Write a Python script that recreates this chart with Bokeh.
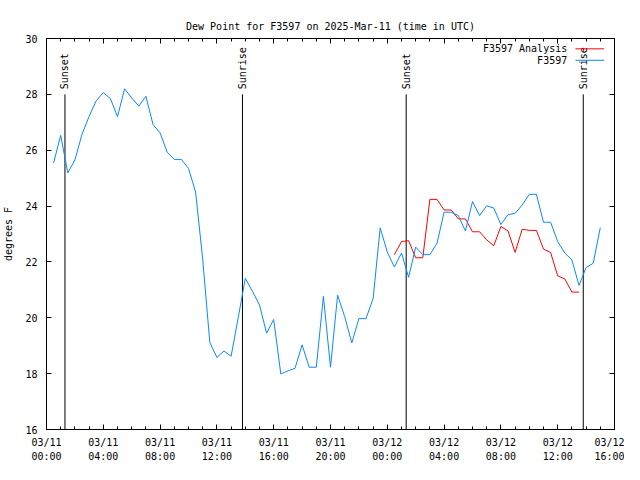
from math import pi
from bokeh.plotting import figure
from bokeh.models import Range1d, LinearAxis, FixedTicker, Label, Arrow
from bokeh.embed import file_html
from bokeh.resources import INLINE

# hours since 2025-03-11 00:00 UTC
obs_hours = [0.5, 1.0, 1.5, 2.0, 2.5, 3.0, 3.5, 4.0, 4.5, 5.0,
             5.5, 6.0, 6.5, 7.0, 7.5, 8.0, 8.5, 9.0, 9.5, 10.0,
             10.5, 11.0, 11.5, 12.0, 12.5, 13.0, 13.5, 14.0, 14.5, 15.0,
             15.5, 16.0, 16.5, 17.0, 17.5, 18.0, 18.5, 19.0, 19.5, 20.0,
             20.5, 21.0, 21.5, 22.0, 22.5, 23.0, 23.5, 24.0, 24.5, 25.0,
             25.5, 26.0, 26.5, 27.0, 27.5, 28.0, 28.5, 29.0, 29.5, 30.0,
             30.5, 31.0, 31.5, 32.0, 32.5, 33.0, 33.5, 34.0, 34.5, 35.0,
             35.5, 36.0, 36.5, 37.0, 37.5, 38.0, 38.5, 39.0]
obs_dewpoint = [25.54, 26.53, 25.19, 25.65, 26.57, 27.21, 27.77, 28.06, 27.85, 27.20,
                28.20, 27.87, 27.58, 27.93, 26.92, 26.62, 25.93, 25.67, 25.67, 25.35,
                24.50, 22.10, 19.12, 18.58, 18.81, 18.62, 20.00, 21.41, 20.95, 20.46,
                19.45, 19.94, 17.99, 18.10, 18.19, 19.03, 18.23, 18.23, 20.77, 18.23,
                20.81, 20.04, 19.10, 19.97, 19.97, 20.69, 23.22, 22.35, 21.82, 22.32,
                21.45, 22.53, 22.26, 22.26, 22.67, 23.78, 23.78, 23.66, 23.11, 24.16,
                23.66, 24.01, 23.93, 23.34, 23.69, 23.74, 24.04, 24.42, 24.42, 23.42,
                23.42, 22.73, 22.32, 22.07, 21.16, 21.80, 21.95, 23.23]

ana_hours = [24.5, 25.0, 25.5, 26.0, 26.5, 27.0, 27.5, 28.0, 28.5, 29.0,
             29.5, 30.0, 30.5, 31.0, 31.5, 32.0, 32.5, 33.0, 33.5, 34.0,
             34.5, 35.0, 35.5, 36.0, 36.5, 37.0, 37.5]
ana_dewpoint = [22.26, 22.73, 22.76, 22.15, 22.15, 24.24, 24.24, 23.86, 23.86, 23.54,
                23.54, 23.08, 23.08, 22.79, 22.58, 23.27, 23.11, 22.34, 23.17, 23.13,
                23.13, 22.46, 22.34, 21.50, 21.39, 20.92, 20.92]

sun_hours = [1.30, 13.80, 25.33, 37.80]
sun_labels = ["Sunset", "Sunrise", "Sunset", "Sunrise"]

x_ticks = [0, 4, 8, 12, 16, 20, 24, 28, 32, 36, 40]
x_tick_labels = ["03/11\n00:00", "03/11\n04:00", "03/11\n08:00", "03/11\n12:00",
                 "03/11\n16:00", "03/11\n20:00", "03/12\n00:00", "03/12\n04:00",
                 "03/12\n08:00", "03/12\n12:00", "03/12\n16:00"]
x_minor = list(range(0, 41))
y_ticks = [16, 18, 20, 22, 24, 26, 28, 30]

FONT = "DejaVu Sans Mono"
FS = "10px"
RED = "#ff0000"
BLUE = "#0a88ff"

p = figure(width=624, height=464, x_range=Range1d(0, 40), y_range=Range1d(16, 30),
           output_backend="svg", toolbar_location=None,
           min_border_left=44, min_border_right=10, min_border_top=38, min_border_bottom=34,
           x_axis_location=None, y_axis_location=None)
p.grid.visible = False
p.outline_line_color = "black"
p.outline_line_width = 1
p.background_fill_color = "white"
p.border_fill_color = "white"

p.title.text = "Dew Point for F3597 on 2025-Mar-11 (time in UTC)"
p.title.text_font = FONT
p.title.text_font_size = FS
p.title.text_font_style = "normal"
p.title.align = "center"
p.title.vertical_align = "top"
p.title.text_color = "black"

xt = FixedTicker(ticks=x_ticks, minor_ticks=x_minor)
yt = FixedTicker(ticks=y_ticks, minor_ticks=[])

def style(ax, labels=True):
    ax.axis_line_color = "black"
    ax.major_tick_in = 5
    ax.major_tick_out = 0
    ax.minor_tick_in = 3
    ax.minor_tick_out = 0
    ax.major_tick_line_color = "black"
    ax.minor_tick_line_color = "black"
    ax.major_label_text_font = FONT
    ax.major_label_text_font_size = FS
    ax.major_label_text_color = "black"
    if not labels:
        ax.major_label_overrides = {t: "" for t in ax.ticker.ticks}
        ax.major_label_standoff = 0

bottom = LinearAxis(ticker=xt)
style(bottom)
bottom.major_label_overrides = {t: s for t, s in zip(x_ticks, x_tick_labels)}
bottom.major_label_standoff = 7
bottom.major_label_text_line_height = 1.3
p.add_layout(bottom, "below")

top = LinearAxis(ticker=xt)
style(top, labels=False)
p.add_layout(top, "above")

left = LinearAxis(ticker=yt, axis_label="degrees F")
style(left)
left.major_label_standoff = 9
left.minor_tick_in = 0
left.axis_label_text_font = FONT
left.axis_label_text_font_size = FS
left.axis_label_text_font_style = "normal"
left.axis_label_text_color = "black"
left.axis_label_standoff = 8
p.add_layout(left, "left")

right = LinearAxis(ticker=yt)
style(right, labels=False)
right.minor_tick_in = 0
p.add_layout(right, "right")

# sunrise / sunset markers
p.segment(x0=sun_hours, y0=[16] * len(sun_hours), x1=sun_hours, y1=[28] * len(sun_hours),
          line_color="black", line_width=1)
for h, s in zip(sun_hours, sun_labels):
    p.add_layout(Label(x=h, y=28.18, text=s, angle=pi / 2, text_align="left",
                       text_baseline="middle", text_font=FONT, text_font_size=FS,
                       text_color="black"))

p.line(ana_hours, ana_dewpoint, line_color=RED, line_width=1)
p.line(obs_hours, obs_dewpoint, line_color=BLUE, line_width=1)

# legend (text left of sample line, gnuplot style)
for txt, col, yy in [("F3597 Analysis", RED, 29.63), ("F3597", BLUE, 29.22)]:
    p.add_layout(Label(x=36.67, y=yy, text=txt, text_align="right", text_baseline="middle",
                       text_font=FONT, text_font_size=FS, text_color="black"))
    p.add_layout(Arrow(end=None, start=None, x_start=37.25, y_start=yy, x_end=39.27, y_end=yy,
                       line_color=col, line_width=1))

open("out.html", "w").write(file_html(p, INLINE))
